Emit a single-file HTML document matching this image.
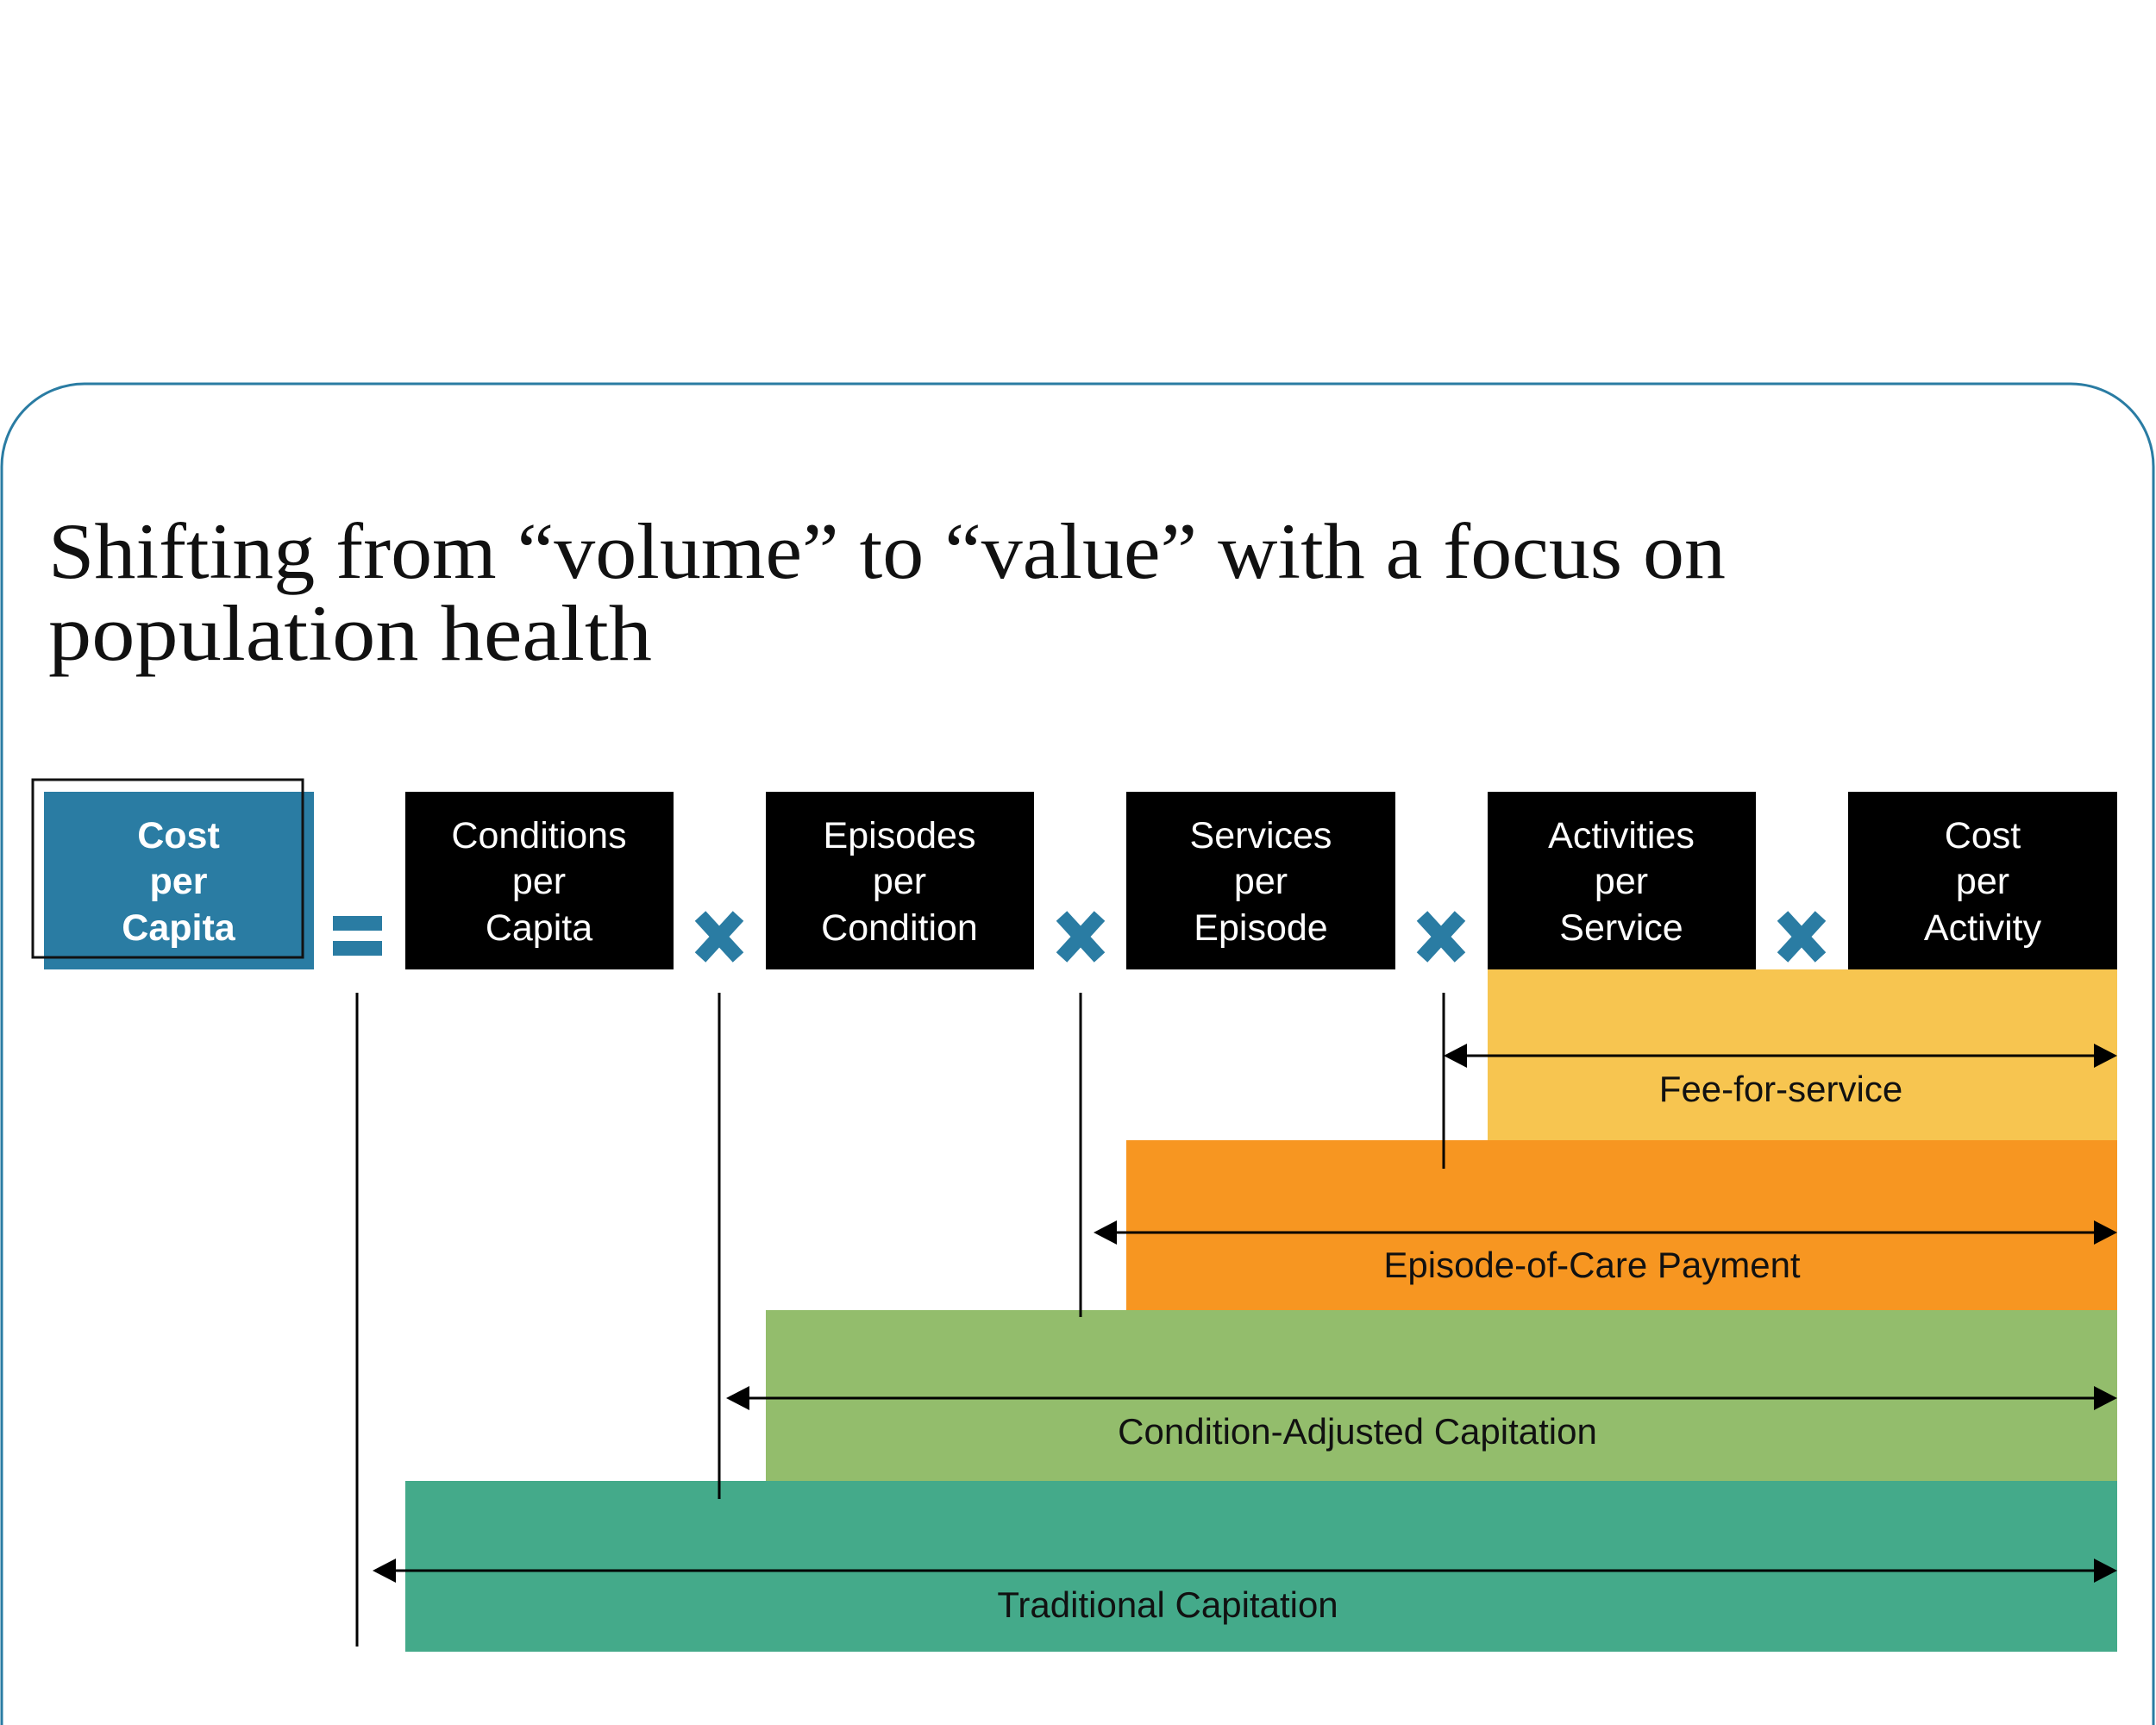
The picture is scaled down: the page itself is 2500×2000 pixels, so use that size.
<!DOCTYPE html>
<html><head><meta charset="utf-8"><style>
html,body{margin:0;padding:0;background:#fff;}
svg{display:block;}
</style></head><body>
<svg width="2500" height="2000" viewBox="0 0 2500 2000" xmlns="http://www.w3.org/2000/svg">
<rect width="2500" height="2000" fill="#fff"/>
<path d="M2,2010 V541 A96,96 0 0 1 98,445 H2401 A96,96 0 0 1 2497,541 V2010" fill="none" stroke="#2a7ca3" stroke-width="3"/>
<g font-family="'Liberation Serif', serif" fill="#111" font-size="92">
<text x="56" y="670" textLength="1945" lengthAdjust="spacingAndGlyphs">Shifting from “volume” to “value” with a focus on</text>
<text x="56" y="765" textLength="700" lengthAdjust="spacingAndGlyphs">population health</text>
</g>
<!-- bands -->
<rect x="1725" y="1124" width="730" height="199" fill="#f7c550"/>
<rect x="1306" y="1322" width="1149" height="198" fill="#f79621"/>
<rect x="888" y="1519" width="1567" height="199" fill="#93bd6c"/>
<rect x="470" y="1717" width="1985" height="198" fill="#44aa8a"/>
<!-- boxes -->
<rect x="51" y="918" width="313" height="206" fill="#2a7ca3"/>
<rect x="38" y="904" width="313" height="206" fill="none" stroke="#111" stroke-width="3"/>
<g fill="#000">
<rect x="470" y="918" width="311" height="206"/>
<rect x="888" y="918" width="311" height="206"/>
<rect x="1306" y="918" width="312" height="206"/>
<rect x="1725" y="918" width="311" height="206"/>
<rect x="2143" y="918" width="312" height="206"/>
</g>
<g font-family="'Liberation Sans', sans-serif" font-size="43" fill="#fff" text-anchor="middle">
<g font-weight="bold"><text x="207" y="983">Cost</text><text x="207" y="1036">per</text><text x="207" y="1090">Capita</text></g>
<text x="625" y="983">Conditions</text><text x="625" y="1036">per</text><text x="625" y="1090">Capita</text>
<text x="1043" y="983">Episodes</text><text x="1043" y="1036">per</text><text x="1043" y="1090">Condition</text>
<text x="1462" y="983">Services</text><text x="1462" y="1036">per</text><text x="1462" y="1090">Episode</text>
<text x="1880" y="983">Activities</text><text x="1880" y="1036">per</text><text x="1880" y="1090">Service</text>
<text x="2299" y="983">Cost</text><text x="2299" y="1036">per</text><text x="2299" y="1090">Activity</text>
</g>
<!-- equals -->
<rect x="386" y="1062" width="57" height="17" fill="#2a7ca3"/>
<rect x="386" y="1091" width="57" height="17" fill="#2a7ca3"/>
<!-- x marks -->
<g stroke="#2a7ca3" stroke-width="17" stroke-linecap="butt">
<path d="M812,1062 L856,1110 M856,1062 L812,1110"/>
<path d="M1231,1062 L1275,1110 M1275,1062 L1231,1110"/>
<path d="M1649,1062 L1693,1110 M1693,1062 L1649,1110"/>
<path d="M2067,1062 L2111,1110 M2111,1062 L2067,1110"/>
</g>
<!-- vertical lines -->
<g stroke="#000" stroke-width="3">
<line x1="414" y1="1151" x2="414" y2="1909"/>
<line x1="834" y1="1151" x2="834" y2="1738"/>
<line x1="1253" y1="1151" x2="1253" y2="1527"/>
<line x1="1674" y1="1151" x2="1674" y2="1355"/>
<line x1="1700" y1="1224" x2="2430" y2="1224"/>
<line x1="1294" y1="1429" x2="2430" y2="1429"/>
<line x1="868" y1="1621" x2="2430" y2="1621"/>
<line x1="458" y1="1821" x2="2430" y2="1821"/>
</g>
<g fill="#000">
<path d="M1674,1224 L1701,1210 L1701,1238Z"/><path d="M2455,1224 L2428,1210 L2428,1238Z"/>
<path d="M1268,1429 L1295,1415 L1295,1443Z"/><path d="M2455,1429 L2428,1415 L2428,1443Z"/>
<path d="M842,1621 L869,1607 L869,1635Z"/><path d="M2455,1621 L2428,1607 L2428,1635Z"/>
<path d="M432,1821 L459,1807 L459,1835Z"/><path d="M2455,1821 L2428,1807 L2428,1835Z"/>
</g>
<g font-family="'Liberation Sans', sans-serif" font-size="42" fill="#111" text-anchor="middle">
<text x="2065" y="1277">Fee-for-service</text>
<text x="1846" y="1481">Episode-of-Care Payment</text>
<text x="1574" y="1674">Condition-Adjusted Capitation</text>
<text x="1354" y="1875">Traditional Capitation</text>
</g>
</svg>
</body></html>
